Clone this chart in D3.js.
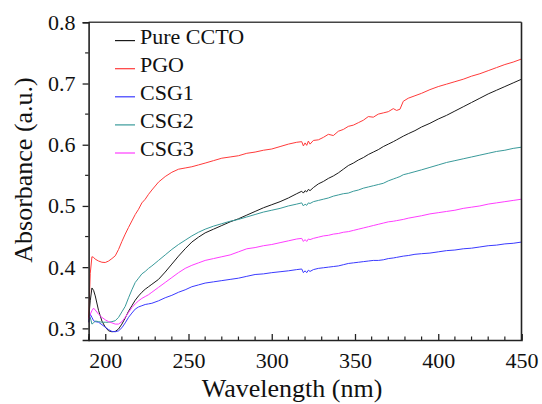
<!DOCTYPE html>
<html>
<head>
<meta charset="utf-8">
<script src="https://cdn.jsdelivr.net/npm/d3@7"></script>
<style>
  html, body { margin: 0; padding: 0; background: #fff; }
  svg { display: block; }
  svg text { font-family: "Liberation Serif", "DejaVu Serif", "Times New Roman", Times, serif !important; fill: #111; }
</style>
</head>
<body>
<svg id="chart" width="542" height="404"></svg>
<script>
// ---------------- DATA ----------------
const wavelengths = [190,191,192,193,194,196,198,200,202,204,206,208,210,212,214,216,218,220,222,224,226,228,232,236,240,244,248,252,256,260,265,270,275,280,285,290,295,300,305,310,315,318,319,320,321,322,323,325,328,331,334,337,340,343,346,349,352,355,358,361,364,367,370,373,375,377,379,382,386,390,395,400,405,410,415,420,425,430,435,440,445,450];

const pureCCTO = [0.315,0.345,0.366,0.362,0.353,0.329,0.312,0.302,0.296,0.2945,0.295,0.299,0.307,0.317,0.328,0.337,0.346,0.353,0.359,0.364,0.368,0.372,0.380,0.392,0.405,0.418,0.430,0.441,0.449,0.456,0.462,0.468,0.474,0.479,0.485,0.491,0.497,0.502,0.507,0.513,0.520,0.524,0.521,0.525,0.523,0.527,0.525,0.530,0.536,0.540,0.545,0.549,0.554,0.560,0.566,0.570,0.575,0.579,0.584,0.588,0.592,0.597,0.601,0.605,0.608,0.611,0.614,0.618,0.623,0.629,0.635,0.642,0.648,0.655,0.662,0.669,0.676,0.683,0.689,0.695,0.701,0.707];

const pgo = [0.310,0.390,0.417,0.416,0.413,0.410,0.408,0.4076,0.410,0.414,0.4185,0.429,0.442,0.454,0.465,0.4755,0.486,0.4946,0.505,0.511,0.519,0.526,0.539,0.548,0.555,0.560,0.562,0.564,0.567,0.570,0.574,0.578,0.580,0.582,0.586,0.588,0.591,0.593,0.597,0.601,0.604,0.605,0.598,0.603,0.599,0.606,0.601,0.607,0.608,0.612,0.617,0.615,0.622,0.625,0.630,0.632,0.636,0.640,0.646,0.645,0.650,0.652,0.654,0.659,0.656,0.658,0.671,0.676,0.680,0.684,0.690,0.695,0.699,0.703,0.707,0.712,0.716,0.721,0.726,0.731,0.735,0.740];

const csg1 = [0.310,0.323,0.318,0.3125,0.311,0.310,0.306,0.302,0.298,0.295,0.2945,0.296,0.301,0.309,0.318,0.325,0.3315,0.335,0.337,0.339,0.340,0.341,0.345,0.350,0.354,0.359,0.363,0.368,0.371,0.374,0.376,0.378,0.380,0.382,0.385,0.388,0.389,0.391,0.3925,0.394,0.396,0.397,0.391,0.394,0.391,0.395,0.393,0.396,0.398,0.399,0.400,0.401,0.402,0.404,0.406,0.407,0.408,0.409,0.410,0.411,0.411,0.412,0.414,0.415,0.416,0.417,0.418,0.419,0.421,0.422,0.423,0.425,0.427,0.428,0.430,0.431,0.433,0.435,0.436,0.438,0.439,0.441];

const csg2 = [0.3125,0.318,0.307,0.309,0.312,0.311,0.310,0.310,0.310,0.311,0.3125,0.318,0.327,0.336,0.350,0.363,0.375,0.382,0.389,0.393,0.398,0.402,0.411,0.420,0.429,0.437,0.444,0.451,0.457,0.462,0.467,0.471,0.475,0.478,0.482,0.486,0.490,0.493,0.496,0.500,0.503,0.505,0.500,0.503,0.501,0.505,0.504,0.507,0.509,0.511,0.513,0.516,0.518,0.520,0.521,0.524,0.526,0.529,0.531,0.533,0.535,0.537,0.541,0.544,0.546,0.548,0.551,0.553,0.556,0.559,0.563,0.567,0.571,0.574,0.577,0.580,0.583,0.586,0.589,0.591,0.594,0.596];

const csg3 = [0.315,0.323,0.329,0.333,0.330,0.323,0.318,0.314,0.311,0.309,0.307,0.307,0.311,0.318,0.326,0.334,0.340,0.345,0.349,0.352,0.355,0.359,0.367,0.375,0.383,0.391,0.398,0.403,0.407,0.411,0.414,0.417,0.420,0.425,0.430,0.432,0.435,0.437,0.440,0.443,0.446,0.447,0.442,0.445,0.442,0.446,0.445,0.447,0.449,0.451,0.452,0.454,0.455,0.457,0.458,0.460,0.462,0.464,0.466,0.468,0.470,0.472,0.474,0.475,0.476,0.477,0.478,0.480,0.482,0.484,0.487,0.489,0.491,0.493,0.496,0.498,0.500,0.503,0.505,0.507,0.509,0.511];

const seriesNames = ["Pure CCTO", "PGO", "CSG1", "CSG2", "CSG3"];
const seriesValues = [pureCCTO, pgo, csg1, csg2, csg3];
const seriesColors = ["#1a1a1a", "#ff3a3a", "#3a3aff", "#399a9a", "#ff3cff"];

const xTicks = [200, 250, 300, 350, 400, 450];
const yTicks = [0.3, 0.4, 0.5, 0.6, 0.7, 0.8];
const xTitle = "Wavelength (nm)";
const yTitle = "Absorbance (a.u.)";

// ---------------- LAYOUT ----------------
const FONT = '"Liberation Serif", "DejaVu Serif", "Times New Roman", Times, serif';
const svg = d3.select("#chart");
const L = 88.6, R = 521.5, T = 22.3, B = 340;
const x = d3.scaleLinear().domain([190, 450]).range([L, R]);
const y = d3.scaleLinear().domain([0.281, 0.8]).range([B, T]);

// curves
const line = d3.line().x((d, i) => x(wavelengths[i])).y(d => y(d));
const gLines = svg.append("g");
seriesValues.forEach((vals, k) => {
  gLines.append("path")
    .attr("d", line(vals))
    .attr("fill", "none")
    .attr("stroke", seriesColors[k])
    .attr("stroke-width", 1)
    .attr("stroke-linejoin", "round");
});

// frame (top & right)
svg.append("line").attr("x1", L).attr("x2", R).attr("y1", T).attr("y2", T)
  .attr("stroke", "#444").attr("stroke-width", 1.6);
svg.append("line").attr("x1", R).attr("x2", R).attr("y1", T).attr("y2", B)
  .attr("stroke", "#222").attr("stroke-width", 1.6);

// x axis (ticks inward)
const xAxis = svg.append("g").attr("transform", `translate(0,${B})`)
  .call(d3.axisBottom(x).tickValues(xTicks).tickSize(-6).tickFormat(d3.format("d")));
xAxis.attr("font-family", FONT);
xAxis.select(".domain").attr("stroke", "#222").attr("stroke-width", 1.6);
xAxis.selectAll(".tick line").attr("stroke", "#222").attr("stroke-width", 1.3);
xAxis.selectAll("text").attr("y", 28).attr("dy", 0)
  .attr("font-size", 22).attr("font-family", FONT).attr("fill", "#111");
const xMinor = d3.range(190, 451, 10).filter(v => !xTicks.includes(v));
svg.append("g").selectAll("line").data(xMinor).join("line")
  .attr("x1", d => x(d)).attr("x2", d => x(d)).attr("y1", B).attr("y2", B - 3.5)
  .attr("stroke", "#222").attr("stroke-width", 1.2);

// y axis (ticks outward)
const yAxis = svg.append("g").attr("transform", `translate(${L},0)`)
  .call(d3.axisLeft(y).tickValues(yTicks).tickSize(6).tickPadding(7).tickFormat(d3.format(".1f")));
yAxis.attr("font-family", FONT);
yAxis.select(".domain").attr("stroke", "#222").attr("stroke-width", 1.6);
yAxis.selectAll(".tick line").attr("stroke", "#222").attr("stroke-width", 1.3);
yAxis.selectAll("text")
  .attr("font-size", 22).attr("font-family", FONT).attr("fill", "#111");
const yMinor = [0.35, 0.45, 0.55, 0.65, 0.75];
svg.append("g").selectAll("line").data(yMinor).join("line")
  .attr("x1", L).attr("x2", L - 3.5).attr("y1", d => y(d)).attr("y2", d => y(d))
  .attr("stroke", "#222").attr("stroke-width", 1.2);

// axis titles
svg.append("text").attr("x", (L + R) / 2 - 13).attr("y", 397)
  .attr("text-anchor", "middle").attr("font-family", FONT).attr("font-size", 26).text(xTitle);
svg.append("text").attr("transform", `translate(32,170) rotate(-90)`)
  .attr("text-anchor", "middle").attr("font-family", FONT).attr("font-size", 26).text(yTitle);

// legend
const leg = svg.append("g");
seriesNames.forEach((name, k) => {
  const ly = 40.6 + k * 28.1;
  leg.append("line").attr("x1", 115).attr("x2", 135).attr("y1", ly).attr("y2", ly)
    .attr("stroke", seriesColors[k]).attr("stroke-width", 1.2);
  leg.append("text").attr("x", 140).attr("y", ly + 3)
    .attr("font-family", FONT).attr("font-size", 22).text(name);
});
</script>
</body>
</html>
